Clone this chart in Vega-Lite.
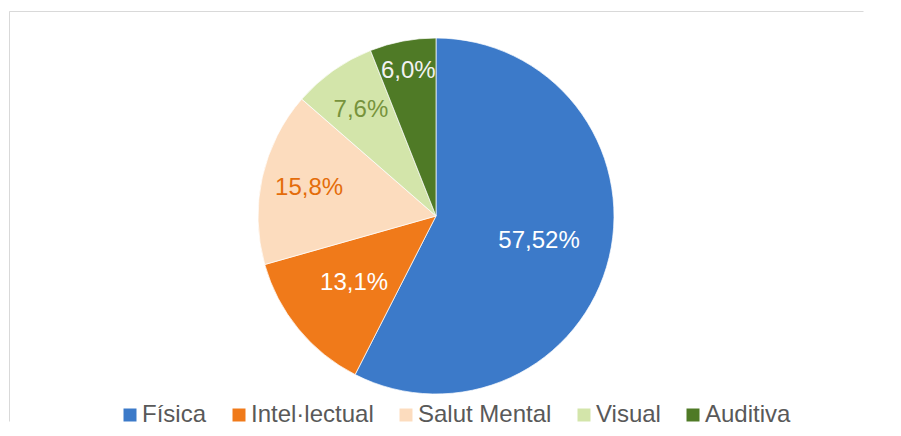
{
  "$schema": "https://vega.github.io/schema/vega-lite/v6.json",
  "width": 854,
  "height": 410,
  "autosize": {"type": "none"},
  "padding": {"left": 9, "top": 11, "right": 38, "bottom": 15},
  "background": "white",
  "view": {"stroke": "#d9d9d9", "strokeWidth": 1, "strokeDash": [854, 1264]},
  "data": {
    "values": [
      {"cat": "Física", "value": 57.52, "label": "57,52%", "ord": 1},
      {"cat": "Intel·lectual", "value": 13.1, "label": "13,1%", "ord": 2},
      {"cat": "Salut Mental", "value": 15.8, "label": "15,8%", "ord": 3},
      {"cat": "Visual", "value": 7.6, "label": "7,6%", "ord": 4},
      {"cat": "Auditiva", "value": 6.0, "label": "6,0%", "ord": 5}
    ]
  },
  "encoding": {
    "theta": {"field": "value", "type": "quantitative", "stack": true},
    "order": {"field": "ord", "type": "quantitative"}
  },
  "layer": [
    {
      "mark": {"type": "arc", "outerRadius": 178, "stroke": "#ffffff", "strokeWidth": 1, "strokeOpacity": 0.7},
      "encoding": {
        "color": {
          "field": "cat",
          "type": "nominal",
          "scale": {
            "domain": ["Física", "Intel·lectual", "Salut Mental", "Visual", "Auditiva"],
            "range": ["#3c7ac9", "#f07a1a", "#fcdcbe", "#d3e5aa", "#4f7a26"]
          },
          "legend": {
            "title": null,
            "orient": "none",
            "legendX": 109,
            "legendY": 392,
            "direction": "horizontal",
            "symbolType": "square",
            "symbolSize": 169,
            "symbolStrokeWidth": 0,
            "labelFont": "Liberation Sans",
            "labelFontSize": 24,
            "labelColor": "#595959",
            "labelOffset": 0,
            "columnPadding": 20,
            "padding": 0,
            "labelLimit": 300
          }
        }
      }
    },
    {
      "mark": {"type": "text", "radius": 106, "font": "Liberation Sans", "fontSize": 24},
      "encoding": {
        "text": {"field": "label", "type": "nominal"},
        "color": {"value": "#ffffff"},
        "opacity": {"condition": {"test": "datum.cat === 'Física' || datum.cat === 'Intel·lectual'", "value": 1}, "value": 0}
      }
    },
    {
      "mark": {"type": "text", "radius": 130, "font": "Liberation Sans", "fontSize": 24},
      "encoding": {
        "text": {"field": "label", "type": "nominal"},
        "color": {"condition": {"test": "datum.cat === 'Visual'", "value": "#77933c"}, "value": "#e46c0a"},
        "opacity": {"condition": {"test": "datum.cat === 'Salut Mental' || datum.cat === 'Visual'", "value": 1}, "value": 0}
      }
    },
    {
      "mark": {"type": "text", "radius": 148, "font": "Liberation Sans", "fontSize": 24},
      "encoding": {
        "text": {"field": "label", "type": "nominal"},
        "color": {"value": "#f2f2f2"},
        "opacity": {"condition": {"test": "datum.cat === 'Auditiva'", "value": 1}, "value": 0}
      }
    }
  ]
}
